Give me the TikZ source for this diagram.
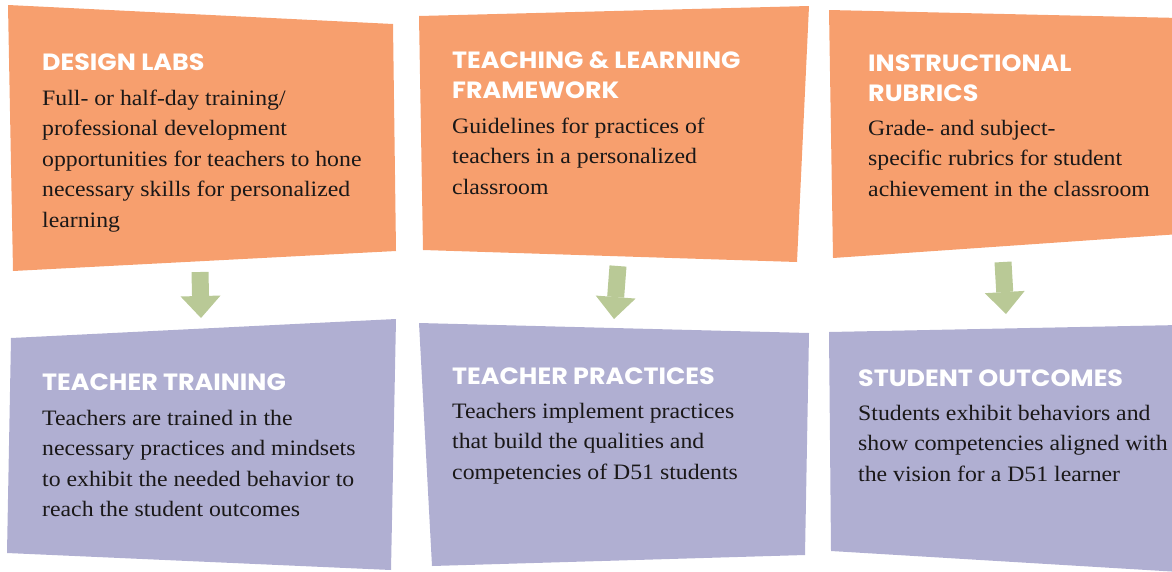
\documentclass[tikz,border=0pt]{standalone}
\usepackage{fontspec}
\setmainfont{Liberation Serif}[FakeStretch=1.08]
\newfontfamily\headfont{Poppins}[FakeStretch=1.08]
\usetikzlibrary{arrows.meta}
\definecolor{boxorange}{RGB}{247,159,110}
\definecolor{boxpurple}{RGB}{176,175,210}
\definecolor{arrowgreen}{RGB}{185,201,150}
\definecolor{bodyblack}{RGB}{26,24,24}
\newcommand{\mystrut}{\rule{0pt}{24pt}}
\begin{document}
\begin{tikzpicture}[x=1pt,y=-1pt,
  headtext/.style={anchor=north west, inner sep=0pt, align=left, text=white,
    font=\headfont\bfseries\fontsize{23.5}{30}\selectfont},
  bodytext/.style={anchor=north west, inner sep=0pt, align=left, text=bodyblack,
    font=\fontsize{22}{30.5}\selectfont},
  orangebox/.style={fill=boxorange},
  purplebox/.style={fill=boxpurple},
  flowarrow/.style={draw=arrowgreen, line width=17pt,
    -{Triangle[width=40pt,length=22pt,line width=0pt]}}
]
\useasboundingbox (0,0) rectangle (1172,571);

% boxes
\fill[orangebox] (8,5) -- (393,24) -- (396,251) -- (13,271) -- cycle;
\fill[orangebox] (419,16) -- (809,6) -- (797,262) -- (423,250) -- cycle;
\fill[orangebox] (829,10) -- (1180,18) -- (1180,234) -- (833,258) -- cycle;
\fill[purplebox] (11,338) -- (396,319) -- (391,570) -- (7,553) -- cycle;
\fill[purplebox] (419,323) -- (809,333) -- (805,555) -- (432,566) -- cycle;
\fill[purplebox] (829,332) -- (1180,325) -- (1180,572) -- (831,551) -- cycle;

% arrows
\coordinate (a1s) at (200,272);
\coordinate (a1e) at (201,318);
\coordinate (a2s) at (618,266);
\coordinate (a2e) at (614,319);
\coordinate (a3s) at (1003,262);
\coordinate (a3e) at (1006,314);
\draw[flowarrow] (a1s) -- (a1e);
\draw[flowarrow] (a2s) -- (a2e);
\draw[flowarrow] (a3s) -- (a3e);

% texts (positions: first baseline minus 24)
\node[headtext] (h1) at (42,46) {\mystrut DESIGN LABS};
\node[bodytext] (b1) at (42,81) {\mystrut Full- or half-day training/\\professional development\\opportunities for teachers to hone\\necessary skills for personalized\\learning};

\node[headtext] (h2) at (452,44) {\mystrut TEACHING \& LEARNING\\FRAMEWORK};
\node[bodytext] (b2) at (452,109) {\mystrut Guidelines for practices of\\teachers in a personalized\\classroom};

\node[headtext] (h3) at (868,47) {\mystrut INSTRUCTIONAL\\RUBRICS};
\node[bodytext] (b3) at (868,111) {\mystrut Grade- and subject-\\specific rubrics for student\\achievement in the classroom};

\node[headtext] (h4) at (42,366) {\mystrut TEACHER TRAINING};
\node[bodytext] (b4) at (42,401) {\mystrut Teachers are trained in the\\necessary practices and mindsets\\to exhibit the needed behavior to\\reach the student outcomes};

\node[headtext] (h5) at (452,360) {\mystrut TEACHER PRACTICES};
\node[bodytext] (b5) at (452,394) {\mystrut Teachers implement practices\\that build the qualities and\\competencies of D51 students};

\node[headtext] (h6) at (858,362) {\mystrut STUDENT OUTCOMES};
\node[bodytext] (b6) at (858,396) {\mystrut Students exhibit behaviors and\\show competencies aligned with\\the vision for a D51 learner};
\end{tikzpicture}
\end{document}
